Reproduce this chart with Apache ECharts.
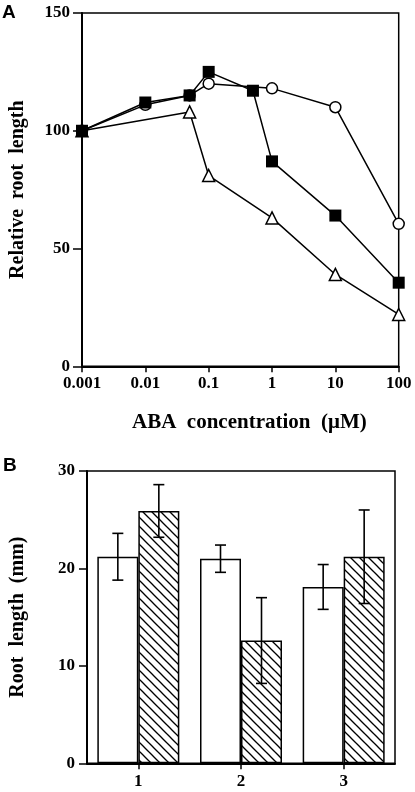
<!DOCTYPE html>
<html>
<head>
<meta charset="utf-8">
<script src="https://cdn.jsdelivr.net/npm/echarts@6/dist/echarts.min.js"></script>
<style>
html,body{margin:0;padding:0;background:#fff;}
#c{width:415px;height:792px;}
</style>
</head>
<body>
<div id="c"></div>
<script>
// ---- Panel A data ----
const xTickLabels = ['0.001', '0.01', '0.1', '1', '10', '100'];
const squareX = [0.001, 0.01, 0.05, 0.1, 0.5, 1, 10, 100];
const squareY = [100, 112, 115, 125, 117, 87, 64, 35.5];
const circleX = [0.001, 0.01, 0.05, 0.1, 1, 10, 100];
const circleY = [100, 111, 115, 120, 118, 110, 60.5];
const triangleX = [0.001, 0.05, 0.1, 1, 10, 100];
const triangleY = [100, 108, 81, 63, 39, 22];

// ---- Panel B data ----
const barCategories = ['1', '2', '3'];
const openBars = [21.2, 21.0, 18.1];
const openErr = [2.4, 1.4, 2.3];
const hatchedBars = [25.9, 12.6, 21.2];
const hatchedErr = [2.7, 4.4, 4.8];

const SERIF = '"Liberation Serif", "Times New Roman", serif';
const SANS = '"Liberation Sans", Arial, sans-serif';
const BAR_W = 41;

function zip(xs, ys) { return xs.map((x, i) => [x, ys[i]]); }

// hatch pattern
const pc = document.createElement('canvas');
pc.width = 9; pc.height = 9;
const g = pc.getContext('2d');
g.fillStyle = '#fff'; g.fillRect(0, 0, 9, 9);
g.strokeStyle = '#000'; g.lineWidth = 1.3;
for (let k = -1; k <= 1; k++) {
  g.beginPath(); g.moveTo(k * 9 - 1, -1); g.lineTo(k * 9 + 10, 10); g.stroke();
}

const chart = echarts.init(document.getElementById('c'), null, {renderer: 'canvas'});

const labelStyle = {color: '#000', fontFamily: SERIF, fontWeight: 'bold', fontSize: 17};
const nameStyle = {color: '#000', fontFamily: SERIF, fontWeight: 'bold', fontSize: 20};
const axisLine = {show: true, onZero: false, lineStyle: {color: '#000', width: 2}};

function errRender(offsetSign) {
  return function (params, api) {
    const i = api.value(0), m = api.value(1), e = api.value(2);
    const c = api.coord([i, m]);
    const x = c[0] + offsetSign * BAR_W / 2;
    const top = api.coord([i, m + e])[1];
    const bot = api.coord([i, m - e])[1];
    const hw = 5.5;
    const st = {stroke: '#000', lineWidth: 1.6};
    return {
      type: 'group',
      children: [
        {type: 'line', shape: {x1: x, y1: top, x2: x, y2: bot}, style: st},
        {type: 'line', shape: {x1: x - hw, y1: top, x2: x + hw, y2: top}, style: st},
        {type: 'line', shape: {x1: x - hw, y1: bot, x2: x + hw, y2: bot}, style: st}
      ]
    };
  };
}

const option = {
  animation: false,
  backgroundColor: '#fff',
  graphic: [
    {type: 'text', left: 2, top: 3, style: {text: 'A', font: 'bold 19px ' + SANS, fill: '#000'}},
    {type: 'text', left: 3, top: 456, style: {text: 'B', font: 'bold 19px ' + SANS, fill: '#000'}}
  ],
  grid: [
    {left: 80.7, right: 16.3, top: 13, bottom: 425.7, show: true, borderColor: '#000', borderWidth: 1.5, backgroundColor: 'transparent'},
    {left: 85.7, right: 20, top: 471, bottom: 28.7, show: true, borderColor: '#000', borderWidth: 1.5, backgroundColor: 'transparent'}
  ],
  xAxis: [
    {
      gridIndex: 0, type: 'log', logBase: 10, min: 0.001, max: 100,
      axisLine: axisLine,
      axisTick: {show: true, inside: false, length: 6, lineStyle: {color: '#000', width: 1.5}},
      splitLine: {show: false},
      minorTick: {show: false},
      axisLabel: Object.assign({margin: 9, formatter: function (v) {
        return xTickLabels[Math.round(Math.log10(v)) + 3];
      }}, labelStyle),
      name: 'ABA  concentration  (μM)', nameLocation: 'middle', nameGap: 46,
      nameTextStyle: Object.assign({padding: [0, 0, 0, 18]}, nameStyle, {fontSize: 21})
    },
    {
      gridIndex: 1, type: 'category', data: barCategories,
      axisLine: axisLine,
      axisTick: {show: true, inside: false, alignWithLabel: true, length: 6, lineStyle: {color: '#000', width: 1.5}},
      axisLabel: Object.assign({margin: 10}, labelStyle),
      splitLine: {show: false}
    }
  ],
  yAxis: [
    {
      gridIndex: 0, type: 'value', min: 0, max: 150, interval: 50,
      axisLine: axisLine,
      axisTick: {show: true, inside: false, length: 9, lineStyle: {color: '#000', width: 1.5}},
      splitLine: {show: false},
      axisLabel: Object.assign({margin: 12}, labelStyle),
      name: 'Relative  root  length', nameLocation: 'middle', nameGap: 54, nameRotate: 90,
      nameTextStyle: nameStyle
    },
    {
      gridIndex: 1, type: 'value', min: 0, max: 30, interval: 10,
      axisLine: axisLine,
      axisTick: {show: true, inside: false, length: 8, lineStyle: {color: '#000', width: 1.5}},
      splitLine: {show: false},
      axisLabel: Object.assign({margin: 12}, labelStyle),
      name: 'Root  length  (mm)', nameLocation: 'middle', nameGap: 59, nameRotate: 90,
      nameTextStyle: nameStyle
    }
  ],
  series: [
    {
      type: 'line', xAxisIndex: 0, yAxisIndex: 0, data: zip(triangleX, triangleY),
      symbol: 'triangle', symbolSize: 12,
      lineStyle: {color: '#000', width: 1.5},
      itemStyle: {color: '#fff', borderColor: '#000', borderWidth: 1.5}, z: 2
    },
    {
      type: 'line', xAxisIndex: 0, yAxisIndex: 0, data: zip(circleX, circleY),
      symbol: 'circle', symbolSize: 11,
      lineStyle: {color: '#000', width: 1.5},
      itemStyle: {color: '#fff', borderColor: '#000', borderWidth: 1.5}, z: 3
    },
    {
      type: 'line', xAxisIndex: 0, yAxisIndex: 0, data: zip(squareX, squareY),
      symbol: 'rect', symbolSize: 12,
      lineStyle: {color: '#000', width: 1.5},
      itemStyle: {color: '#000', borderColor: '#000', borderWidth: 0}, z: 4
    },
    {
      type: 'bar', xAxisIndex: 1, yAxisIndex: 1, data: openBars,
      barWidth: BAR_W, barGap: '0%',
      itemStyle: {color: '#fff', borderColor: '#000', borderWidth: 1.5}
    },
    {
      type: 'bar', xAxisIndex: 1, yAxisIndex: 1, data: hatchedBars,
      barWidth: BAR_W, barGap: '0%',
      itemStyle: {color: {image: pc, repeat: 'repeat'}, borderColor: '#000', borderWidth: 1.5}
    },
    {
      type: 'custom', xAxisIndex: 1, yAxisIndex: 1, z: 5,
      data: openBars.map((v, i) => [i, v, openErr[i]]),
      encode: {x: 0, y: 1},
      renderItem: errRender(-1)
    },
    {
      type: 'custom', xAxisIndex: 1, yAxisIndex: 1, z: 5,
      data: hatchedBars.map((v, i) => [i, v, hatchedErr[i]]),
      encode: {x: 0, y: 1},
      renderItem: errRender(1)
    }
  ]
};
chart.setOption(option);
</script>
</body>
</html>
